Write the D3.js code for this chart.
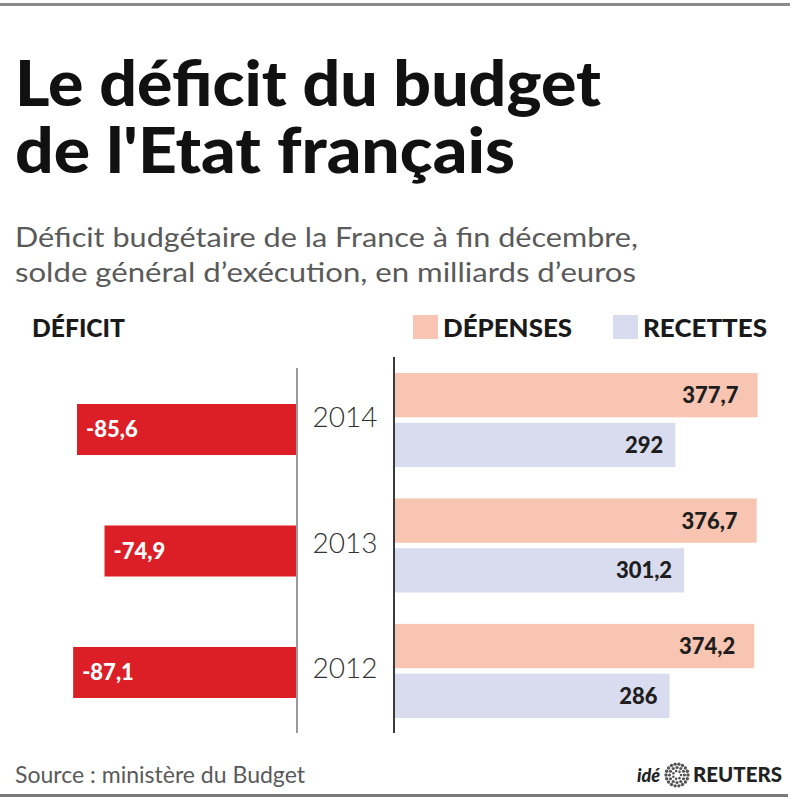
<!DOCTYPE html>
<html>
<head>
<meta charset="utf-8">
<script src="https://cdn.jsdelivr.net/npm/d3@7"></script>
<style>
  html, body { margin: 0; padding: 0; background: #fff; }
  svg { display: block; }
  text { font-family: Lato, "Open Sans", sans-serif; }
</style>
</head>
<body>
<svg id="chart" width="795" height="800"></svg>
<script>
// ---- Data ----
const years = ["2014", "2013", "2012"];
const deficit = [-85.6, -74.9, -87.1];
const depenses = [377.7, 376.7, 374.2];
const recettes = [292, 301.2, 286];
const seriesNames = ["DÉPENSES", "RECETTES"];
const seriesColors = ["#f7c5b1", "#d9dcee"];

const title = ["Le déficit du budget", "de l'Etat français"];
const subtitle = ["Déficit budgétaire de la France à fin décembre,", "solde général d’exécution, en milliards d’euros"];
const source = "Source : ministère du Budget";

// ---- Setup ----
const svg = d3.select("#chart");
const fr = d3.formatLocale({decimal: ",", thousands: " ", grouping: [3], currency: ["", " €"], minus: "-"});
const fmt = fr.format("~f");

// frame lines
svg.append("rect").attr("x", 0).attr("y", 3).attr("width", 790).attr("height", 3).attr("fill", "#8a8a8a");
svg.append("rect").attr("x", 0).attr("y", 794).attr("width", 788).attr("height", 3).attr("fill", "#7a7a7a");

// title
svg.append("text").attr("x", 15).attr("y", 106).attr("font-size", 62).attr("font-weight", 900)
  .attr("fill", "#111").attr("textLength", 586).attr("lengthAdjust", "spacingAndGlyphs").text(title[0]);
svg.append("text").attr("x", 15).attr("y", 173).attr("font-size", 62).attr("font-weight", 900)
  .attr("fill", "#111").attr("textLength", 500).attr("lengthAdjust", "spacingAndGlyphs").text(title[1]);

// subtitle
svg.append("text").attr("x", 15).attr("y", 247).attr("font-size", 26).attr("font-weight", 400)
  .attr("fill", "#5a5a5a").attr("textLength", 623).attr("lengthAdjust", "spacingAndGlyphs").text(subtitle[0]);
svg.append("text").attr("x", 15).attr("y", 282).attr("font-size", 26).attr("font-weight", 400)
  .attr("fill", "#5a5a5a").attr("textLength", 621).attr("lengthAdjust", "spacingAndGlyphs").text(subtitle[1]);

// section heading + legend
svg.append("text").attr("x", 32).attr("y", 337).attr("font-size", 25).attr("font-weight", 900)
  .attr("fill", "#1a1a1a").attr("textLength", 93).attr("lengthAdjust", "spacingAndGlyphs").text("DÉFICIT");

const legendX = [413, 613];
const legendW = [129, 124];
seriesNames.forEach((s, i) => {
  svg.append("rect").attr("x", legendX[i]).attr("y", 315).attr("width", 25).attr("height", 24).attr("fill", seriesColors[i]);
  svg.append("text").attr("x", legendX[i] + 30).attr("y", 337).attr("font-size", 25).attr("font-weight", 900)
    .attr("fill", "#1a1a1a").attr("textLength", legendW[i]).attr("lengthAdjust", "spacingAndGlyphs").text(s);
});

// ---- Scales ----
const xDef = d3.scaleLinear().domain([-100, 0]).range([297 - 257, 297]);
const yDef = d3.scaleBand().domain(years).range([404, 698]).paddingInner(0.58).paddingOuter(0);

const xR = d3.scaleLinear().domain([0, 400]).range([395, 395 + 384]);
const yGroup = d3.scaleBand().domain(years).range([373, 718]).paddingInner(0.25).paddingOuter(0);
const ySeries = d3.scaleBand().domain(seriesNames).range([0, yGroup.bandwidth()]).paddingInner(0.11);

// ---- Deficit bars ----
const defData = years.map((y, i) => ({year: y, v: deficit[i]}));
svg.selectAll(".def").data(defData).join("rect")
  .attr("x", d => xDef(d.v)).attr("y", d => yDef(d.year))
  .attr("width", d => xDef(0) - xDef(d.v)).attr("height", yDef.bandwidth())
  .attr("fill", "#dc1f26");
svg.selectAll(".defl").data(defData).join("text")
  .attr("x", d => xDef(d.v) + 9).attr("y", d => yDef(d.year) + yDef.bandwidth() / 2)
  .attr("dy", "0.36em").attr("font-size", 22).attr("font-weight", 900).attr("fill", "#fff")
  .text(d => fmt(d.v));

// ---- Right bars ----
const rData = [];
years.forEach((y, i) => {
  rData.push({year: y, s: seriesNames[0], v: depenses[i], c: seriesColors[0], inset: 19});
  rData.push({year: y, s: seriesNames[1], v: recettes[i], c: seriesColors[1], inset: 12});
});
svg.selectAll(".rb").data(rData).join("rect")
  .attr("x", xR(0)).attr("y", d => yGroup(d.year) + ySeries(d.s))
  .attr("width", d => xR(d.v) - xR(0)).attr("height", ySeries.bandwidth())
  .attr("fill", d => d.c);
svg.selectAll(".rl").data(rData).join("text")
  .attr("x", d => xR(d.v) - d.inset).attr("y", d => yGroup(d.year) + ySeries(d.s) + ySeries.bandwidth() / 2)
  .attr("dy", "0.36em").attr("text-anchor", "end").attr("font-size", 22).attr("font-weight", 900).attr("fill", "#1e1e1e")
  .text(d => fmt(d.v));

// ---- Axis lines ----
svg.append("line").attr("x1", 297).attr("x2", 297).attr("y1", 368).attr("y2", 733)
  .attr("stroke", "#9a9a9a").attr("stroke-width", 2);
svg.append("line").attr("x1", 394).attr("x2", 394).attr("y1", 357).attr("y2", 733)
  .attr("stroke", "#3a3a3a").attr("stroke-width", 2);

// ---- Year labels ----
svg.selectAll(".yr").data(years).join("text")
  .attr("x", 345).attr("y", d => yGroup(d) + yGroup.bandwidth() / 2 - 3)
  .attr("dy", "0.36em").attr("text-anchor", "middle").attr("font-size", 28).attr("font-weight", 300)
  .attr("fill", "#333").text(d => d);

// ---- Footer ----
svg.append("text").attr("x", 15).attr("y", 783).attr("font-size", 24).attr("font-weight", 400)
  .attr("fill", "#5a5a5a").attr("textLength", 290).attr("lengthAdjust", "spacingAndGlyphs").text(source);
svg.append("text").attr("x", 637).attr("y", 782).attr("font-size", 18).attr("font-weight", 900)
  .attr("font-style", "italic").attr("fill", "#222").text("idé");
svg.append("text").attr("x", 693).attr("y", 782).attr("font-size", 20).attr("font-weight", 900)
  .attr("fill", "#222").attr("textLength", 89).attr("lengthAdjust", "spacingAndGlyphs").text("REUTERS");
// Reuters dot-ring logo
const logo = svg.append("g").attr("transform", "translate(677,775)");
const rings = [{r: 11, n: 18, s: 1.7}, {r: 7.5, n: 12, s: 1.6}, {r: 4, n: 7, s: 1.3}];
rings.forEach(ring => {
  d3.range(ring.n).forEach(k => {
    const a = 2 * Math.PI * k / ring.n;
    logo.append("circle").attr("cx", ring.r * Math.cos(a)).attr("cy", ring.r * Math.sin(a))
      .attr("r", ring.s).attr("fill", "#555");
  });
});
</script>
</body>
</html>
